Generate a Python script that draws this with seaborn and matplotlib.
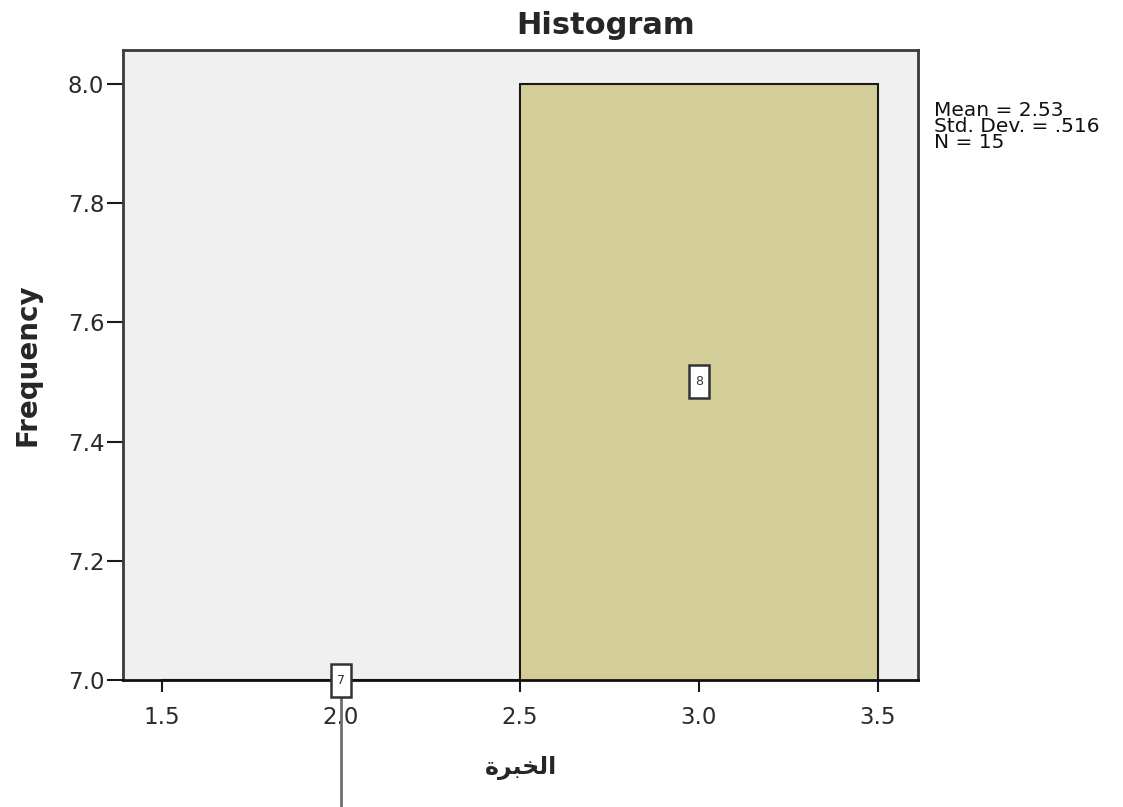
import numpy as np
import seaborn as sns
import matplotlib.pyplot as plt
from matplotlib import transforms
from matplotlib.path import Path

# experience levels and how many respondents have each
levels = [2, 3]
counts = [7, 8]
bin_edges = [1.5, 2.5, 3.5]
x_ticks = [1.5, 2.0, 2.5, 3.0, 3.5]
y_ticks = [7.0, 7.2, 7.4, 7.6, 7.8, 8.0]

values = np.repeat(levels, counts)
mean = values.mean()
sd = values.std(ddof=1)
n = len(values)

sns.set_style("white")
plt.rcParams['font.family'] = ['DejaVu Sans']

fig = plt.figure(figsize=(11.23, 8.07), dpi=100)
ax = fig.add_axes([123 / 1123, 1 - 680 / 807, 795 / 1123, 630 / 807])
ax.set_facecolor('#f0f0f0')

sns.histplot(x=values, bins=bin_edges, color='#d3ce97', edgecolor='#1a1a1a',
             linewidth=1.5, alpha=1, ax=ax)

ax.set_xlim(1.391, 3.612)
ax.set_ylim(7.0, 8.057)
ax.set_xticks(x_ticks)
ax.set_xticklabels([f"{t:.1f}" for t in x_ticks])
ax.set_yticks(y_ticks)
ax.set_yticklabels([f"{t:.1f}" for t in y_ticks])
ax.tick_params(axis='both', bottom=True, left=True, direction='out', width=1.5,
               color='#1a1a1a', labelsize=16.5, labelcolor='#2a2a2a')
ax.tick_params(axis='y', length=11.5, pad=2)
ax.tick_params(axis='x', length=8.5, pad=10)
for sp in ax.spines.values():
    sp.set_color('#3a3a3a')
    sp.set_linewidth(2)
ax.spines['bottom'].set_color('#111111')

ax.set_ylabel('Frequency', fontsize=20, fontweight='bold', va='center')
ax.yaxis.set_label_coords(-0.1195, 0.5)
# الخبرة, shaped forms in visual order
ax.set_xlabel('\uFE93\uFEAE\uFE92\uFEA8\uFEDF\uFE8D', fontsize=17, fontweight='bold',
              va='center')
ax.xaxis.set_label_coords(0.5, -0.14)


def tall_box(x0, y0, width, height, mutation_size):
    # narrow, tall frame like the SPSS data labels
    px, py = 0.45 * mutation_size, 0.8 * mutation_size
    x0, y0 = x0 - px, y0 - py
    x1, y1 = x0 + width + 2 * px, y0 + height + 2 * py
    return Path([(x0, y0), (x1, y0), (x1, y1), (x0, y1), (x0, y0)], closed=True)


# count labels in small boxes
centers = [(a + b) / 2 for a, b in zip(bin_edges[:-1], bin_edges[1:])]
box = dict(boxstyle=tall_box, facecolor='white', edgecolor='#333333', linewidth=1.8)
for c, k in zip(centers, counts):
    y = 7.0 if k == min(counts) else 7.0 + (k - 7.0) / 2
    ax.text(c, y, str(k), fontsize=9, ha='center', va='center', color='#333333',
            bbox=box, zorder=5, clip_on=False)

# leader line hanging below the lowest label
trans = transforms.blended_transform_factory(ax.transData, ax.transAxes)
low = centers[int(np.argmin(counts))]
ax.plot([low, low], [-0.028, -0.21], transform=trans, color='#6e6e6e', lw=2,
        clip_on=False, zorder=4)

fig.text(606 / 1123, 1 - 26 / 807, 'Histogram', fontsize=22, fontweight='bold',
         ha='center', va='center')
fig.text(934 / 1123, 1 - 101 / 807,
         f"Mean = {mean:.2f}\nStd. Dev. = {sd:.3f}".replace('= 0.', '= .') + f"\nN = {n}",
         fontsize=14.5, ha='left', va='top', linespacing=0.8, color='#111111')

fig.savefig('out.png', dpi=100)
